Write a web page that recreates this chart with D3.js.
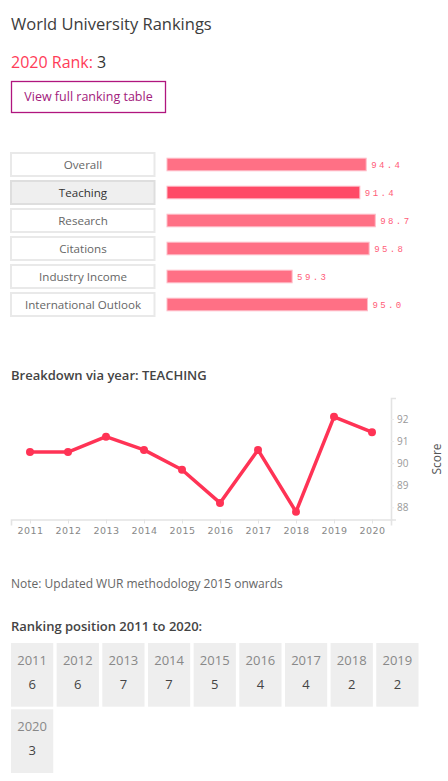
<!DOCTYPE html>
<html>
<head>
<meta charset="utf-8">
<script src="https://cdn.jsdelivr.net/npm/d3@7"></script>
<style>
  html, body { margin: 0; padding: 0; background: #fff; }
  svg { display: block; font-family: "Open Sans", sans-serif; }
</style>
</head>
<body>
<svg id="page" width="448" height="781"></svg>
<script>
// ---- data ----
const categories = ['Overall', 'Teaching', 'Research', 'Citations', 'Industry Income', 'International Outlook'];
const scores = [94.4, 91.4, 98.7, 95.8, 59.3, 95.0];
const selected = 'Teaching';

const years = [2011, 2012, 2013, 2014, 2015, 2016, 2017, 2018, 2019, 2020];
const teaching = [90.5, 90.5, 91.2, 90.6, 89.7, 88.2, 90.6, 87.8, 92.1, 91.4];
const scoreTicks = [88, 89, 90, 91, 92];

const ranks = [6, 6, 7, 7, 5, 4, 4, 2, 2, 3];

const svg = d3.select('#page');

// ---- header ----
svg.append('text').attr('x', 11).attr('y', 30)
  .attr('font-size', 16.5).attr('fill', '#3c3c3c').text('World University Rankings');

const rank = svg.append('text').attr('x', 11).attr('y', 67.5).attr('font-size', 16);
rank.append('tspan').attr('fill', '#ff3c58').text('2020 Rank: ');
rank.append('tspan').attr('fill', '#333').text('3');

svg.append('rect').attr('x', 11.5).attr('y', 81.5).attr('width', 154).attr('height', 31)
  .attr('fill', '#fff').attr('stroke', '#b0157e').attr('stroke-width', 1.3);
svg.append('text').attr('x', 88.5).attr('y', 101).attr('text-anchor', 'middle')
  .attr('font-size', 12.5).attr('fill', '#a2207c').text('View full ranking table');

// ---- score bars ----
const band = d3.scaleBand().domain(categories).range([152, 317]).paddingInner(3 / 28).paddingOuter(0);
const x = d3.scaleLinear().domain([0, 100]).range([167, 378]);

const rows = svg.append('g').selectAll('g').data(categories).join('g');

rows.append('rect')
  .attr('x', 11).attr('y', (d) => band(d) + 1)
  .attr('width', 143.5).attr('height', band.bandwidth() - 2)
  .attr('fill', (d) => (d === selected ? '#efefef' : '#fff'))
  .attr('stroke', (d) => (d === selected ? '#dedede' : '#e9e9e9'))
  .attr('stroke-width', 2);

rows.append('text')
  .attr('x', 83).attr('y', (d) => band(d) + band.bandwidth() / 2 + 4)
  .attr('text-anchor', 'middle').attr('font-size', 11.6)
  .attr('fill', (d) => (d === selected ? '#333' : '#666'))
  .text((d) => d);

rows.append('rect')
  .attr('x', x(0)).attr('y', (d) => band(d) + band.bandwidth() / 2 - 6.3)
  .attr('width', (d, i) => x(scores[i]) - x(0)).attr('height', 12.6)
  .attr('fill', (d) => (d === selected ? '#ff4a66' : '#ff7085'))
  .attr('stroke', '#ffbcc8').attr('stroke-width', 1);

rows.append('text')
  .attr('x', (d, i) => x(scores[i]) + 5)
  .attr('y', (d) => band(d) + band.bandwidth() / 2 + 3)
  .attr('font-family', '"Liberation Mono", monospace')
  .attr('font-size', 9).attr('letter-spacing', 2.4)
  .attr('fill', '#ff5c78')
  .text((d, i) => scores[i].toFixed(1));

// ---- breakdown line chart ----
svg.append('text').attr('x', 11).attr('y', 379.5)
  .attr('font-size', 13).attr('font-weight', 600).attr('fill', '#444')
  .text('Breakdown via year: TEACHING');

const lx = d3.scalePoint().domain(years).range([11, 391]).padding(0.5);
const ly = d3.scaleLinear().domain([87.45, 92.95]).range([519.5, 398]);

const xAxis = svg.append('g').attr('transform', 'translate(0,519.5)')
  .call(d3.axisBottom(lx).tickSize(4).tickSizeOuter(6).tickPadding(4));
xAxis.select('.domain').attr('stroke', '#e3e3e3').attr('stroke-width', 1.6);
xAxis.selectAll('.tick line').attr('stroke', '#e3e3e3');
xAxis.selectAll('.tick text')
  .attr('font-family', '"DejaVu Sans", sans-serif').attr('font-size', 9.5)
  .attr('letter-spacing', 0.4).attr('fill', '#888');

const yAxis = svg.append('g').attr('transform', 'translate(391,0)')
  .call(d3.axisRight(ly).tickValues(scoreTicks).tickFormat(d3.format('d'))
    .tickSize(3).tickSizeOuter(5).tickPadding(3));
yAxis.select('.domain').attr('stroke', '#e3e3e3').attr('stroke-width', 1.6);
yAxis.selectAll('.tick line').attr('stroke', '#ececec');
yAxis.selectAll('.tick text')
  .attr('font-family', '"Open Sans", sans-serif').attr('font-size', 10).attr('fill', '#999');

svg.append('text')
  .attr('transform', 'translate(441,459) rotate(-90)')
  .attr('text-anchor', 'middle').attr('font-size', 12).attr('fill', '#555')
  .text('Score');

const line = d3.line().x((d, i) => lx(years[i])).y((d) => ly(d));
svg.append('path').attr('d', line(teaching))
  .attr('fill', 'none').attr('stroke', '#ff3355').attr('stroke-width', 3.5)
  .attr('stroke-linejoin', 'round');
svg.append('g').selectAll('circle').data(teaching).join('circle')
  .attr('cx', (d, i) => lx(years[i])).attr('cy', (d) => ly(d))
  .attr('r', 4).attr('fill', '#ff3355');

svg.append('text').attr('x', 11).attr('y', 588)
  .attr('font-size', 12).attr('fill', '#666')
  .text('Note: Updated WUR methodology 2015 onwards');

// ---- ranking tiles ----
svg.append('text').attr('x', 11).attr('y', 631)
  .attr('font-size', 13).attr('font-weight', 600).attr('fill', '#444')
  .text('Ranking position 2011 to 2020:');

const cols = 9;
const col = d3.scaleBand().domain(d3.range(cols)).range([11, 418.5]).paddingInner(0.075).paddingOuter(0);
const row = d3.scaleBand().domain([0, 1]).range([643, 773]).paddingInner(0.04).paddingOuter(0);

const tiles = svg.append('g').selectAll('g').data(years).join('g')
  .attr('transform', (d, i) => `translate(${col(i % cols)},${row(Math.floor(i / cols))})`);

tiles.append('rect').attr('width', col.bandwidth()).attr('height', row.bandwidth()).attr('fill', '#eeeeee');
tiles.append('text').attr('x', col.bandwidth() / 2).attr('y', 22)
  .attr('text-anchor', 'middle').attr('font-size', 13).attr('fill', '#888')
  .text((d) => d);
tiles.append('text').attr('x', col.bandwidth() / 2).attr('y', 45.5)
  .attr('text-anchor', 'middle').attr('font-size', 13).attr('fill', '#444')
  .text((d, i) => ranks[i]);
</script>
</body>
</html>
